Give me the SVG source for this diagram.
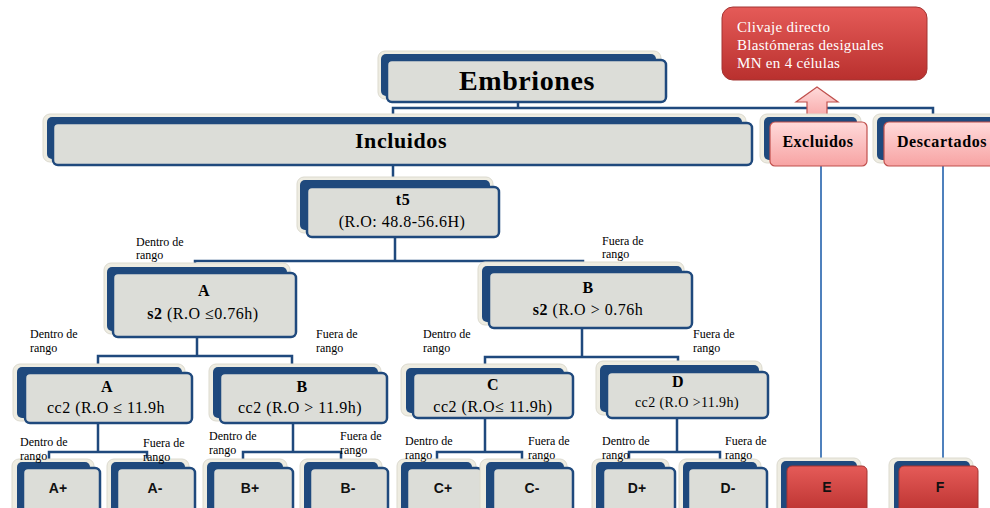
<svg xmlns="http://www.w3.org/2000/svg" width="990" height="508" viewBox="0 0 990 508">
<defs>
<linearGradient id="gRed" x1="0" y1="0" x2="0" y2="1"><stop offset="0" stop-color="#E55B58"/><stop offset="1" stop-color="#B9302E"/></linearGradient>
<linearGradient id="gPink" x1="0" y1="0" x2="0" y2="1"><stop offset="0" stop-color="#FFDADA"/><stop offset="1" stop-color="#F7A3A3"/></linearGradient>
<style>
.cr{fill:#EEECE1;stroke:#DCDACF;stroke-width:1}
.bk{fill:#1F497D}
.fr{fill:#DCDDD8;stroke:#1F497D;stroke-width:2.5}
.pk{fill:url(#gPink);stroke:#C0504D;stroke-width:1.2}
.rd{fill:url(#gRed);stroke:#A33432;stroke-width:1}
.cn{fill:none;stroke:#1F497D;stroke-width:2.5}
.bl{fill:none;stroke:#4F81BD;stroke-width:2}
.s{font-family:"Liberation Serif","Times New Roman",serif;fill:#000}
.b{font-weight:bold}
.t{font-size:16px;text-anchor:middle;letter-spacing:0.5px}
.lb{font-size:12px}
.ss{font-family:"Liberation Sans",Arial,sans-serif;font-weight:bold;font-size:14px;text-anchor:middle;fill:#111}
.w{font-family:"Liberation Serif","Times New Roman",serif;font-size:15px;fill:#fff;letter-spacing:0.3px}
</style>
</defs>

<g id="connectors">
<path class="cn" d="M518 102V108M393 114V108H933V114"/>
<path class="cn" d="M393 165V181"/>
<path class="cn" d="M395 237V261M195 266V261H583V266"/>
<path class="cn" d="M197 337V356M98 365V356H292V365"/>
<path class="cn" d="M582 328V357M485 365V357H678V365"/>
<path class="cn" d="M98 423V452M49 459V452H147V459"/>
<path class="cn" d="M293 423V452M243 459V452H341V459"/>
<path class="cn" d="M485 418V452M437 459V452H522V459"/>
<path class="cn" d="M677 418V452M629 459V452H720V459"/>
<path class="bl" d="M821 166V467M943 166V467"/>
</g>

<g id="note">
<rect class="rd" x="722" y="7" width="205" height="73" rx="11"/>
<text class="w" x="737" y="32">Clivaje directo</text>
<text class="w" x="737" y="50">Blastómeras desiguales</text>
<text class="w" x="737" y="68">MN en 4 células</text>
<polygon points="817,87 838,102 827,102 827,121 807,121 807,102 796,102" fill="url(#gPink)" stroke="#C0504D" stroke-width="1.2"/>
</g>

<g id="n-embriones">
<rect class="cr" x="378" y="51" width="283" height="48" rx="7"/>
<rect class="bk" x="381" y="54" width="275" height="42" rx="5"/>
<rect class="fr" x="387" y="60" width="279" height="42" rx="5"/>
<text class="s b" x="527" y="90" font-size="28" text-anchor="middle" letter-spacing="0.6">Embriones</text>
</g>

<g id="n-incluidos">
<rect class="cr" x="43" y="114" width="703" height="48" rx="7"/>
<rect class="bk" x="47" y="117" width="695" height="42" rx="5"/>
<rect class="fr" x="53" y="123" width="699" height="42" rx="5"/>
<text class="s b" x="401" y="148" font-size="22" text-anchor="middle" letter-spacing="0.6">Incluidos</text>
</g>

<g id="n-excluidos">
<rect class="cr" x="760" y="114" width="101" height="49" rx="7"/>
<rect class="bk" x="764" y="117" width="93" height="43" rx="5"/>
<rect class="pk" x="770" y="122" width="97" height="44" rx="5"/>
<text class="s b" x="818" y="147" font-size="16" text-anchor="middle" letter-spacing="0.5">Excluidos</text>
</g>

<g id="n-descartados">
<rect class="cr" x="873" y="114" width="125" height="49" rx="7"/>
<rect class="bk" x="877" y="117" width="117" height="43" rx="5"/>
<rect class="pk" x="884" y="122" width="112" height="44" rx="5"/>
<text class="s b" x="942" y="147" font-size="16" text-anchor="middle" letter-spacing="0.6">Descartados</text>
</g>

<g id="n-t5">
<rect class="cr" x="297" y="177" width="196" height="56" rx="7"/>
<rect class="bk" x="300" y="180" width="190" height="50" rx="5"/>
<rect class="fr" x="307" y="187" width="192" height="50" rx="5"/>
<text class="s b t" x="403" y="205">t5</text>
<text class="s t" x="402" y="227">(R.O: 48.8-56.6H)</text>
</g>

<g id="n-A2">
<rect class="cr" x="104" y="263" width="186" height="71" rx="7"/>
<rect class="bk" x="107" y="267" width="180" height="64" rx="5"/>
<rect class="fr" x="113" y="273" width="183" height="64" rx="5"/>
<text class="s b t" x="204" y="296">A</text>
<text class="s t" x="203" y="319"><tspan font-weight="bold">s2</tspan> (R.O ≤0.76h)</text>
</g>

<g id="n-B2">
<rect class="cr" x="478" y="262" width="206" height="63" rx="7"/>
<rect class="bk" x="482" y="266" width="200" height="56" rx="5"/>
<rect class="fr" x="489" y="272" width="203" height="56" rx="5"/>
<text class="s b t" x="588" y="293">B</text>
<text class="s t" x="588" y="315"><tspan font-weight="bold">s2</tspan> (R.O &gt; 0.76h</text>
</g>

<g id="n-A3">
<rect class="cr" x="13" y="364" width="172" height="57" rx="7"/>
<rect class="bk" x="17" y="367" width="165" height="51" rx="5"/>
<rect class="fr" x="25" y="373" width="167" height="50" rx="5"/>
<text class="s b t" x="107" y="392">A</text>
<text class="s t" x="106" y="413">cc2 (R.O ≤ 11.9h</text>
</g>

<g id="n-B3">
<rect class="cr" x="209" y="364" width="172" height="57" rx="7"/>
<rect class="bk" x="213" y="367" width="165" height="51" rx="5"/>
<rect class="fr" x="220" y="373" width="167" height="50" rx="5"/>
<text class="s b t" x="302" y="392">B</text>
<text class="s t" x="300" y="413">cc2 (R.O &gt; 11.9h)</text>
</g>

<g id="n-C3">
<rect class="cr" x="401" y="364" width="166" height="52" rx="7"/>
<rect class="bk" x="406" y="368" width="158" height="45" rx="5"/>
<rect class="fr" x="413" y="373" width="160" height="45" rx="5"/>
<text class="s b t" x="493" y="390">C</text>
<text class="s t" x="493" y="412">cc2 (R.O≤ 11.9h)</text>
</g>

<g id="n-D3">
<rect class="cr" x="596" y="361" width="166" height="54" rx="7"/>
<rect class="bk" x="600" y="365" width="159" height="47" rx="5"/>
<rect class="fr" x="607" y="372" width="161" height="46" rx="5"/>
<text class="s b t" x="678" y="387">D</text>
<text class="s" x="687" y="407" font-size="14" text-anchor="middle" letter-spacing="0.4">cc2 (R.O &gt;11.9h)</text>
</g>

<g id="n-Ap">
<rect class="cr" x="12" y="459" width="82" height="56" rx="7"/>
<rect class="bk" x="17" y="462" width="73" height="52" rx="5"/>
<rect class="fr" x="23" y="468" width="77" height="50" rx="5"/>
<text class="ss" x="58" y="493">A+</text>
</g>
<g id="n-Am">
<rect class="cr" x="107" y="459" width="82" height="56" rx="7"/>
<rect class="bk" x="111" y="462" width="74" height="52" rx="5"/>
<rect class="fr" x="117" y="468" width="78" height="50" rx="5"/>
<text class="ss" x="155" y="493">A-</text>
</g>
<g id="n-Bp">
<rect class="cr" x="203" y="459" width="84" height="56" rx="7"/>
<rect class="bk" x="207" y="462" width="76" height="52" rx="5"/>
<rect class="fr" x="213" y="468" width="80" height="50" rx="5"/>
<text class="ss" x="250" y="493">B+</text>
</g>
<g id="n-Bm">
<rect class="cr" x="300" y="459" width="82" height="56" rx="7"/>
<rect class="bk" x="304" y="462" width="74" height="52" rx="5"/>
<rect class="fr" x="310" y="468" width="78" height="50" rx="5"/>
<text class="ss" x="348" y="493">B-</text>
</g>
<g id="n-Cp">
<rect class="cr" x="397" y="459" width="79" height="56" rx="7"/>
<rect class="bk" x="401" y="462" width="71" height="52" rx="5"/>
<rect class="fr" x="407" y="468" width="75" height="50" rx="5"/>
<text class="ss" x="443" y="493">C+</text>
</g>
<g id="n-Cm">
<rect class="cr" x="480" y="459" width="87" height="56" rx="7"/>
<rect class="bk" x="486" y="462" width="78" height="52" rx="5"/>
<rect class="fr" x="493" y="468" width="80" height="50" rx="5"/>
<text class="ss" x="532" y="493">C-</text>
</g>
<g id="n-Dp">
<rect class="cr" x="592" y="459" width="77" height="56" rx="7"/>
<rect class="bk" x="596" y="462" width="69" height="52" rx="5"/>
<rect class="fr" x="603" y="468" width="72" height="50" rx="5"/>
<text class="ss" x="637" y="493">D+</text>
</g>
<g id="n-Dm">
<rect class="cr" x="679" y="459" width="82" height="56" rx="7"/>
<rect class="bk" x="683" y="462" width="74" height="52" rx="5"/>
<rect class="fr" x="688" y="468" width="79" height="50" rx="5"/>
<text class="ss" x="728" y="493">D-</text>
</g>

<g id="n-E">
<rect class="cr" x="777" y="458" width="84" height="57" rx="7"/>
<rect class="bk" x="781" y="461" width="76" height="52" rx="5"/>
<rect class="rd" x="787" y="466" width="80" height="50" rx="5"/>
<text class="ss" x="827" y="492">E</text>
</g>
<g id="n-F">
<rect class="cr" x="889" y="458" width="84" height="57" rx="7"/>
<rect class="bk" x="894" y="461" width="76" height="52" rx="5"/>
<rect class="rd" x="899" y="466" width="79" height="50" rx="5"/>
<text class="ss" x="940" y="492">F</text>
</g>

<g id="labels">
<text class="s lb" x="136" y="246">Dentro de</text><text class="s lb" x="136" y="259">rango</text>
<text class="s lb" x="602" y="245">Fuera de</text><text class="s lb" x="602" y="258">rango</text>
<text class="s lb" x="30" y="338">Dentro de</text><text class="s lb" x="30" y="352">rango</text>
<text class="s lb" x="316" y="338">Fuera de</text><text class="s lb" x="316" y="352">rango</text>
<text class="s lb" x="423" y="338">Dentro de</text><text class="s lb" x="423" y="352">rango</text>
<text class="s lb" x="693" y="338">Fuera de</text><text class="s lb" x="693" y="352">rango</text>
<text class="s lb" x="20" y="446">Dentro de</text><text class="s lb" x="20" y="460">rango</text>
<text class="s lb" x="143" y="447">Fuera de</text><text class="s lb" x="143" y="461">rango</text>
<text class="s lb" x="209" y="440">Dentro de</text><text class="s lb" x="209" y="454">rango</text>
<text class="s lb" x="340" y="440">Fuera de</text><text class="s lb" x="340" y="454">rango</text>
<text class="s lb" x="405" y="445">Dentro de</text><text class="s lb" x="405" y="459">rango</text>
<text class="s lb" x="528" y="445">Fuera de</text><text class="s lb" x="528" y="459">rango</text>
<text class="s lb" x="602" y="445">Dentro de</text><text class="s lb" x="602" y="459">rango</text>
<text class="s lb" x="725" y="445">Fuera de</text><text class="s lb" x="725" y="459">rango</text>
</g>
</svg>
